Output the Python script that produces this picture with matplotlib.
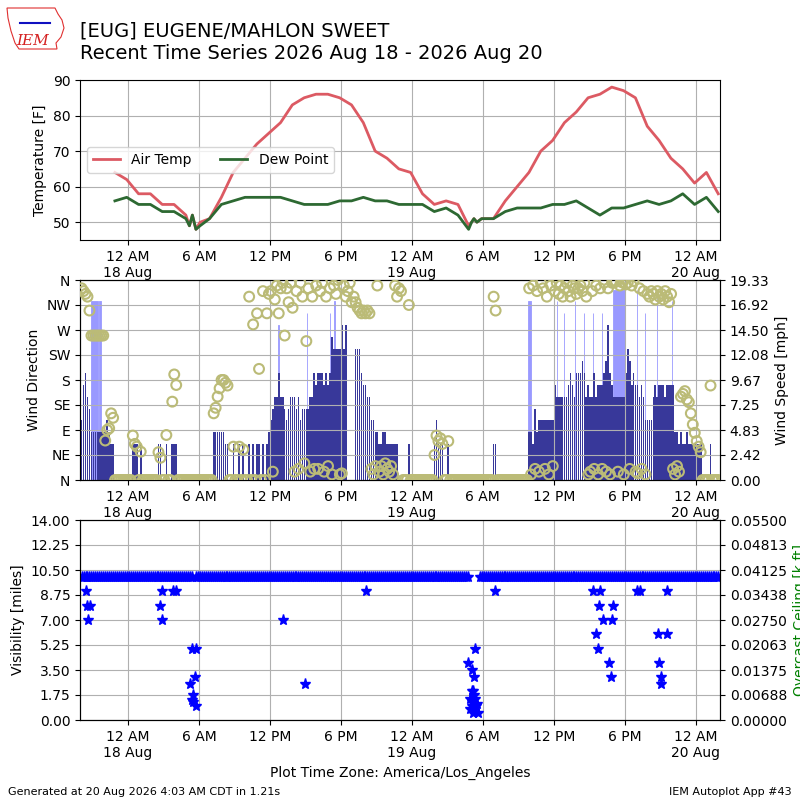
import numpy as np
import matplotlib
matplotlib.use("Agg")
import matplotlib.pyplot as plt
from matplotlib.patches import Polygon
from matplotlib.lines import Line2D

# ---------------- data (hours since 2026-08-18 00:00 America/Los_Angeles) -------------
temp_hours = [-1.1, -0.1, 0.9, 1.9, 2.9, 3.9, 4.9, 5.2, 5.45, 5.75, 6.1, 6.9, 7.9, 8.9,
              9.9, 10.9, 11.9, 12.9, 13.9, 14.9, 15.9, 16.9, 17.9, 18.9, 19.9, 20.9,
              21.9, 22.9, 23.9, 24.9, 25.9, 26.9, 27.9, 28.8, 29.05, 29.25, 29.5, 29.9,
              30.9, 31.9, 32.9, 33.9, 34.9, 35.9, 36.9, 37.9, 38.9, 39.9, 40.9, 41.9,
              42.9, 43.9, 44.9, 45.9, 46.9, 47.9, 48.9, 49.9]
air_temp = [64, 62, 58, 58, 55, 55, 52, 49, 52, 48, 50, 51, 57, 64, 68, 72, 75, 78, 83,
            85, 86, 86, 85, 83, 78, 70, 68, 65, 64, 58, 55, 56, 55, 49, 50, 51, 50, 51,
            51, 56, 60, 64, 70, 73, 78, 81, 85, 86, 88, 87, 85, 77, 73, 68, 65, 61, 64, 58]
dew_point = [56, 57, 55, 55, 53, 53, 51, 49, 52, 48, 49, 51, 55, 56, 57, 57, 57, 57, 56,
             55, 55, 55, 56, 56, 57, 56, 56, 55, 55, 55, 53, 54, 52, 48, 50, 51, 50, 51,
             51, 53, 54, 54, 54, 55, 55, 56, 54, 52, 54, 54, 55, 56, 55, 56, 58, 55, 57, 53]

# 10-minute wind speed [kt], one row per hour starting at hour -4 (20:00 17 Aug)
speed_kt = [
    [5, 8, 9, 7, 6, 4], [4, 4, 4, 4, 4, 4], [4, 5, 4, 3, 3, 0], [0, 0, 0, 0, 0, 0],
    [0, 0, 3, 3, 3, 0], [3, 0, 0, 0, 0, 0], [0, 0, 0, 3, 3, 0], [0, 3, 0, 0, 3, 3],
    [3, 0, 0, 0, 0, 0], [0, 0, 0, 0, 0, 0], [0, 0, 0, 0, 0, 0], [0, 4, 4, 4, 4, 4],
    [4, 3, 3, 0, 0, 3], [0, 0, 3, 0, 3, 0], [0, 3, 0, 3, 0, 3], [3, 0, 3, 0, 3, 4],
    [5, 6, 7, 7, 9, 7], [7, 6, 5, 6, 7, 7], [7, 6, 7, 5, 6, 6], [6, 6, 7, 7, 9, 8],
    [9, 9, 9, 8, 9, 8], [9, 12, 11, 11, 11, 11], [13, 11, 13, 0, 0, 0], [0, 11, 11, 11, 9, 8],
    [8, 7, 7, 5, 5, 4], [4, 3, 3, 4, 4, 3], [3, 3, 3, 3, 3, 0], [0, 0, 0, 0, 3, 0],
    [0, 0, 0, 0, 0, 0], [0, 0, 0, 0, 0, 3], [5, 3, 3, 3, 0, 0], [3, 0, 0, 0, 0, 0],
    [0, 0, 0, 0, 0, 0], [0, 0, 0, 0, 0, 0], [0, 0, 0, 0, 0, 3], [3, 0, 0, 0, 0, 0],
    [0, 0, 0, 0, 0, 0], [0, 0, 0, 0, 0, 4], [4, 3, 6, 4, 5, 5], [5, 5, 5, 5, 5, 5],
    [8, 7, 7, 7, 7, 7], [7, 8, 9, 8, 7, 9], [9, 9, 10, 9, 7, 8], [7, 7, 9, 7, 8, 8],
    [8, 9, 10, 13, 9, 8], [7, 7, 7, 7, 7, 7], [9, 11, 10, 8, 9, 8], [8, 7, 8, 7, 5, 5],
    [5, 5, 7, 8, 7, 8], [8, 8, 7, 8, 8, 8], [8, 4, 4, 3, 4, 3], [3, 4, 3, 3, 3, 3],
    [3, 3, 3, 0, 0, 0], [0, 3, 0, 0, 0, 0],
]
# 10-minute wind direction [deg], same layout
dir_deg = [
    [345, 340, 335, 330, 305, 260], [260, 260, 260, 260, 260, 260], [71, 90, 93, 120, 112, 0],
    [0, 0, 0, 0, 0, 0], [0, 0, 80, 65, 60, 0], [51, 0, 0, 0, 0, 0], [0, 0, 0, 50, 40, 0],
    [0, 81, 0, 0, 141, 190], [171, 0, 0, 0, 0, 0], [0, 0, 0, 0, 0, 0], [0, 0, 0, 0, 0, 0],
    [0, 120, 130, 150, 165, 180], [180, 175, 170, 0, 0, 60], [0, 0, 60, 0, 55, 0],
    [0, 330, 0, 280, 0, 300], [200, 0, 340, 0, 300, 335], [340, 15, 325, 350, 300, 345],
    [355, 260, 345, 320, 355, 310], [15, 340, 20, 355, 330, 30], [250, 345, 15, 330, 20, 350],
    [20, 340, 355, 15, 330, 25], [345, 10, 350, 335, 360, 10], [12, 350, 330, 340, 355, 320],
    [330, 320, 310, 305, 300, 305], [300, 305, 300, 20, 10, 25], [350, 15, 25, 10, 30, 20],
    [15, 25, 10, 350, 330, 345], [340, 0, 0, 0, 315, 0], [0, 0, 0, 0, 0, 0],
    [0, 0, 0, 0, 0, 45], [80, 70, 75, 65, 0, 0], [70, 0, 0, 0, 0, 0], [0, 0, 0, 0, 0, 0],
    [0, 0, 0, 0, 0, 0], [0, 0, 0, 0, 0, 330], [305, 0, 0, 0, 0, 0], [0, 0, 0, 0, 0, 0],
    [0, 0, 0, 0, 0, 345], [10, 350, 20, 340, 15, 355], [345, 20, 330, 10, 350, 25],
    [340, 355, 335, 350, 330, 345], [355, 340, 330, 350, 345, 335], [345, 350, 340, 355, 330, 10],
    [15, 340, 20, 350, 10, 345], [20, 355, 15, 345, 10, 355], [355, 358, 15, 350, 356, 10],
    [352, 355, 20, 350, 358, 15], [12, 345, 20, 340, 10, 335], [330, 340, 335, 325, 340, 330],
    [335, 325, 340, 330, 320, 335], [20, 10, 25, 15, 150, 155], [160, 145, 140, 120, 100, 85],
    [70, 60, 50, 0, 0, 0], [0, 170, 0, 0, 0, 0],
]
# wind gusts: start hour, duration [min], gust [kt]
gust_start = [-3.12, -2.45, 12.72, 15.1, 17.07, 17.4, 33.84, 36.24, 36.88, 37.79, 38.57,
              39.33, 40.04, 41.02, 43.0, 43.7, 44.69, 45.96]
gust_minutes = [34, 13, 1, 1, 1, 8, 12, 1, 1, 1, 1, 1, 1, 59, 1, 1, 1, 1]
gust_kt = [15, 15, 13, 14, 14, 15, 15, 15, 14, 15, 14, 14, 14, 16, 16, 14, 16, 15]

# 10-minute visibility [miles], same layout (None = missing)
vis_mi = [
    [10, 10, 10, 10, 10, 10], [10, 10, 10, 10, 10, 10], [10, 10, 10, 10, 10, 10], [10, 10, 10, 10, 10, 10],
    [10, 10, 10, 10, 10, 10], [10, 10, 10, 10, 10, 10], [10, 10, 10, 10, 10, 10], [10, 10, 10, 10, 10, 10],
    [10, 10, 10, 10, 10, 10], [10, 10, 10, None, 10, 10], [10, 10, 10, 10, 10, 10], [10, 10, 10, 10, 10, 10],
    [10, 10, 10, 10, 10, 10], [10, 10, 10, 10, 10, 10], [10, 10, 10, 10, 10, 10], [10, 10, 10, 10, 10, 10],
    [10, 10, 10, 10, 10, 10], [10, 10, 10, 10, 10, 10], [10, 10, 10, 10, 10, 10], [10, 10, 10, 10, 10, 10],
    [10, 10, 10, 10, 10, 10], [10, 10, 10, 10, 10, 10], [10, 10, 10, 10, 10, 10], [10, 10, 10, 10, 10, 10],
    [10, 10, 10, 10, 10, 10], [10, 10, 10, 10, 10, 10], [10, 10, 10, 10, 10, 10], [10, 10, 10, 10, 10, 10],
    [10, 10, 10, 10, 10, 10], [10, 10, 10, 10, 10, 10], [10, 10, 10, 10, 10, 10], [10, 10, 10, 10, 10, 10],
    [10, 10, 10, 10, 10, None], [None, None, None, None, 10, 10], [10, 10, 10, 10, 10, 10], [10, 10, 10, 10, 10, 10],
    [10, 10, 10, 10, 10, 10], [10, 10, 10, 10, 10, 10], [10, 10, 10, 10, 10, 10], [10, 10, 10, 10, 10, 10],
    [10, 10, 10, 10, 10, 10], [10, 10, 10, 10, 10, 10], [10, 10, 10, 10, 10, 10], [10, 10, 10, 10, 10, 10],
    [10, 10, 10, 10, 10, 10], [10, 10, 10, 10, 10, 10], [10, 10, 10, 10, 10, 10], [10, 10, 10, 10, 10, 10],
    [10, 10, 10, 10, 10, 10], [10, 10, 10, 10, 10, 10], [10, 10, 10, 10, 10, 10], [10, 10, 10, 10, 10, 10],
    [10, 10, 10, 10, 10, 10], [10, 10, 10, 10, 10, 10],
]
# reduced visibility reports
vis_low_hours = [-3.55, -3.44, -3.36, -3.21, 2.70, 2.85, 2.85, 3.85, 4.05, 5.24, 5.38, 5.38,
                 5.47, 5.47, 5.66, 5.75, 5.75, 13.08, 14.96, 20.09, 28.77, 28.90, 28.90,
                 29.05, 29.05, 29.05, 29.12, 29.16, 29.16, 29.25, 29.25, 29.25, 29.33, 29.33,
                 29.40, 29.50, 29.58, 31.00, 39.33, 39.56, 39.75, 39.84, 39.90, 40.13, 40.69,
                 40.81, 40.89, 41.02, 43.00, 43.28, 44.83, 44.91, 45.06, 45.10, 45.54, 45.54]
vis_low_miles = [9, 8, 7, 8, 8, 9, 7, 9, 9, 2.5, 5, 1.4, 1.75, 1.25, 3, 5, 1.0, 7, 2.5, 9,
                 4, 1.5, 0.75, 3.5, 1.0, 1.25, 2.0, 2.0, 0.5, 3, 1.75, 0.75, 5, 1.5, 1.0,
                 1.1, 0.5, 9, 9, 6, 5, 8, 9, 7, 4, 3, 7, 8, 9, 9, 6, 4, 3, 2.5, 6, 9]

tick_hours = [0, 6, 12, 18, 24, 30, 36, 42, 48]
tick_labels = ["12 AM\n18 Aug", "6 AM", "12 PM", "6 PM", "12 AM\n19 Aug", "6 AM",
               "12 PM", "6 PM", "12 AM\n20 Aug"]
compass = ["N", "NE", "E", "SE", "S", "SW", "W", "NW", "N"]

KT2MPH = 1.15078
# ------------------------------------------------------------------------------------

first_hour = -4
bin_centers = first_hour + (np.arange(len(speed_kt) * 6) + 0.5) / 6.0
spd = np.array(speed_kt, dtype=float).ravel() * KT2MPH
drct = np.array(dir_deg, dtype=float).ravel()
vis = np.array([[np.nan if v is None else v for v in row] for row in vis_mi], dtype=float).ravel()
gust_mph = np.array(gust_kt, dtype=float) * KT2MPH
gust_w = np.array(gust_minutes, dtype=float) / 60.0

fig = plt.figure(figsize=(8, 8), dpi=100)
xlim = (-4.05, 50.05)


def setup_x(ax):
    ax.set_xlim(*xlim)
    ax.set_xticks(tick_hours)
    ax.set_xticklabels(tick_labels)


# --- temperature panel
ax1 = fig.add_axes([0.1, 0.7, 0.8, 0.2])
ax1.plot(temp_hours, air_temp, color="#dc5a63", lw=2, label="Air Temp")
ax1.plot(temp_hours, dew_point, color="#2d6932", lw=2, label="Dew Point")
ax1.set_ylim(min(dew_point) - 3, max(air_temp) + 2)
ax1.set_yticks([50, 60, 70, 80, 90])
ax1.set_ylabel("Temperature [F]")
ax1.grid(True)
setup_x(ax1)
ax1.legend(loc="center left", ncol=2)

# --- wind panel
axw = fig.add_axes([0.1, 0.4, 0.8, 0.25])
axd = axw.twinx()
ymax = max(gust_mph) * 1.05
axw.bar(gust_start, gust_mph, width=gust_w, align="edge", color="#9999ff",
        edgecolor="#9999ff", linewidth=0.6, zorder=0.8)
m = spd > 0
axw.bar(bin_centers[m], spd[m], width=0.85 / 6, color="#38389a", linewidth=0, zorder=1)
axw.set_ylim(0, ymax)
yt = np.linspace(0, ymax, 9)
axw.set_yticks(yt)
axw.set_yticklabels(["%.2f" % v for v in yt])
axw.yaxis.tick_right()
axw.yaxis.set_label_position("right")
axw.set_ylabel("Wind Speed [mph]")
axw.grid(True)
setup_x(axw)

axd.scatter(bin_centers, drct, s=50, facecolors="none", edgecolors="#bbbb77",
            linewidths=1.5, zorder=3)
axd.set_ylim(0, 360)
axd.set_yticks(np.arange(0, 361, 45))
axd.set_yticklabels(compass)
axd.yaxis.tick_left()
axd.yaxis.set_label_position("left")
axd.set_ylabel("Wind Direction")
setup_x(axd)

# --- visibility panel
axv = fig.add_axes([0.1, 0.1, 0.8, 0.25])
axv.plot(bin_centers, vis, linestyle="none", marker="*", ms=8, color="#0000ff")
axv.plot(vis_low_hours, vis_low_miles, linestyle="none", marker="*", ms=8, color="#0000ff")
axv.set_ylim(0, 14)
vt = np.linspace(0, 14, 9)
axv.set_yticks(vt)
axv.set_yticklabels(["%.2f" % v for v in vt])
axv.set_ylabel("Visibility [miles]")
axv.grid(True)
setup_x(axv)
axv.set_xlabel("Plot Time Zone: America/Los_Angeles")

axc = axv.twinx()
axc.set_ylim(0, 0.055)
ct = np.linspace(0, 0.055, 9)
axc.set_yticks(ct)
axc.set_yticklabels(["%.5f" % v for v in ct])
axc.set_ylabel("Overcast Ceiling [k ft]", color="green")
axc.set_xlim(*xlim)

# --- titles and footer
fig.text(0.1, 0.973, "[EUG] EUGENE/MAHLON SWEET\nRecent Time Series 2026 Aug 18 - 2026 Aug 20",
         fontsize=14, va="top", ha="left")
fig.text(0.01, 0.006, "Generated at 20 Aug 2026 4:03 AM CDT in 1.21s", fontsize=8)
fig.text(0.99, 0.006, "IEM Autoplot App #43", fontsize=8, ha="right")

# --- small IEM logo
outline = [(7, 8), (55, 8), (58, 14), (62, 20), (64, 28), (61, 37), (56, 43), (57, 49),
           (19, 49), (15, 43), (11, 31), (8, 18)]
fig.add_artist(Polygon([(x / 800.0, 1 - y / 800.0) for x, y in outline], closed=True,
                       fill=False, edgecolor="#e03030", linewidth=0.8,
                       transform=fig.transFigure))
fig.add_artist(Line2D([20 / 800, 50 / 800], [1 - 23 / 800, 1 - 23 / 800], color="#1010c0",
                      lw=1.5, transform=fig.transFigure))
fig.text(16 / 800, 1 - 45 / 800, "IEM", color="#d42020", fontstyle="italic",
         family="DejaVu Serif", fontsize=11)

fig.savefig("out.png", dpi=100)
